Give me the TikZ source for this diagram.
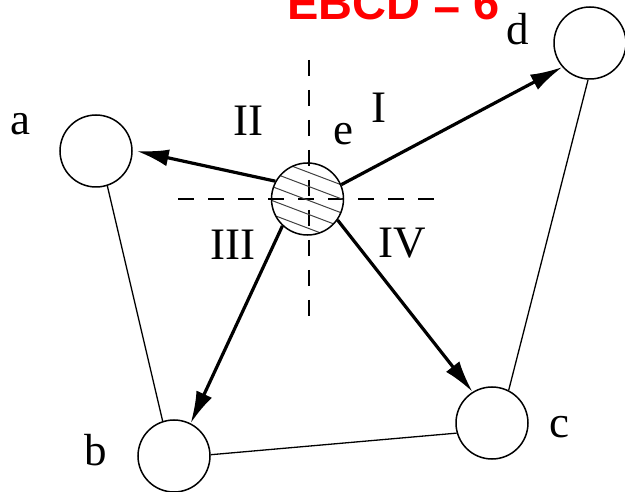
\documentclass[tikz,border=0pt]{standalone}
\usepackage{fontspec}
\setmainfont{Liberation Serif}
\newfontfamily\titlefont{Liberation Sans}
\usetikzlibrary{arrows.meta}
\begin{document}
\begin{tikzpicture}[x=1pt,y=-1pt,
  vtx/.style={circle,draw,line width=1.5pt,minimum size=72pt,inner sep=0pt},
  lbl/.style={anchor=base,inner sep=0pt,font=\fontsize{45}{48}\selectfont},
  arr/.style={line width=3.2pt,-{Latex[length=32pt,width=17pt]}},
  link/.style={line width=1.3pt},
  axisline/.style={line width=1.3pt,dash pattern=on 16pt off 14pt},
  hatch/.style={line width=1pt,black!75}]
\useasboundingbox (0,0) rectangle (625,492);
% axes
\coordinate (vtop) at (309,60);
\coordinate (vbot) at (309,320);
\coordinate (hl) at (178,199);
\coordinate (hr) at (442,199);
\draw[axisline] (vtop) -- (vbot);
\draw[axisline] (hl) -- (hr);
% hatching of e
\begin{scope}
\clip (307.5,199) circle (36pt);
\foreach \k in {-3,...,3}
  \draw[hatch] (260,{182+14*\k}) -- (355,{218+14*\k});
\end{scope}
% nodes
\node[vtx] (a) at (96,151) {};
\node[vtx] (b) at (174,456) {};
\node[vtx] (c) at (492,423) {};
\node[vtx] (d) at (590,43) {};
\node[vtx] (e) at (307.5,199) {};
% thin links
\draw[link] (a.-72) -- (b.108);
\draw[link] (b.2) -- (c.196);
\draw[link] (c.63) -- (d.-93);
% arrows
\draw[arr] (e.23) -- (d.221);
\draw[arr] (e.151) -- ([xshift=4pt]a.east);
\draw[arr] (e.-133) -- (b.63);
\draw[arr] (e.-35) -- (c.122);
% labels
\node[lbl] (la) at (20,135) {a};
\node[lbl] (lb) at (96,465) {b};
\node[lbl] (lc) at (559,438) {c};
\node[lbl] (ld) at (518,45) {d};
\node[lbl] (le) at (343,145) {e};
\node[lbl] (l1) at (379,123) {I};
\node[lbl] (l2) at (248,136) {II};
\node[lbl] (l3) at (233,260) {III};
\node[lbl] (l4) at (402,258) {IV};
\node[anchor=base west,inner sep=0pt,text=red,font=\titlefont\bfseries\fontsize{47}{50}\selectfont] (title) at (287,19.5) {EBCD = 6};
\end{tikzpicture}
\end{document}
